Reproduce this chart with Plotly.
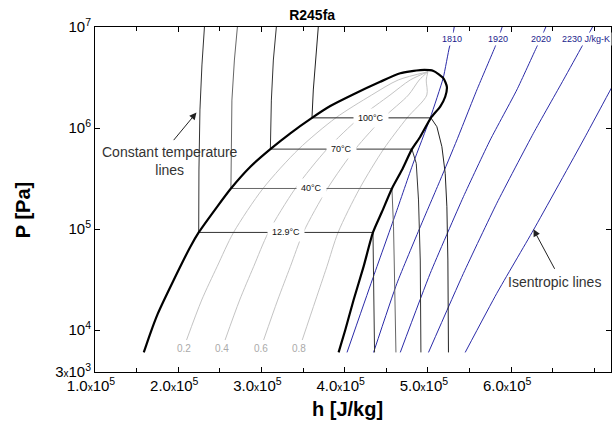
import numpy as np
import plotly.graph_objects as go

# ---------------- data (h in J/kg, P in Pa) ----------------
# saturation dome (liquid side bottom -> critical region -> vapour side bottom)
dome_h = [158.6e3, 166.6e3, 175.6e3, 194.6e3, 214.6e3, 224.6e3, 246.7e3, 263.3e3, 286.7e3, 310.7e3,
          334.7e3, 360.7e3, 382.7e3, 410.7e3, 442.7e3, 466.8e3, 490.8e3, 506.7e3, 518.7e3,
          522.8e3, 520.8e3, 514.8e3, 503.6e3, 490.8e3, 480.8e3, 468.8e3, 456.8e3, 444.8e3,
          434.0e3, 422.7e3, 410.7e3, 400.7e3, 392.7e3]
dome_P = [6.0e3, 9.33e3, 1.46e4, 3.13e4, 6.68e4, 9.25e4, 1.66e5, 2.52e5, 4.14e5, 6.18e5,
          8.86e5, 1.26e6, 1.65e6, 2.16e6, 2.87e6, 3.48e6, 3.75e6, 3.67e6, 3.10e6,
          2.56e6, 2.04e6, 1.63e6, 1.26e6, 8.20e5, 6.18e5, 3.84e5, 2.52e5, 1.48e5,
          9.25e4, 4.24e4, 1.98e4, 1.0e4, 6.0e3]

# constant temperature lines
iso_labels = ["12.9°C", "40°C", "70°C", "100°C"]
iso_colors = ["#333333", "#666666", "#333333", "#222222"]
iso_liq_h = [[231.5e3, 228.5e3, 226.1e3, 224.9e3, 224.6e3],
             [271.1e3, 267.5e3, 264.5e3, 263.6e3, 263.3e3],
             [317.9e3, 314.3e3, 311.9e3, 310.7e3],
             [368.3e3, 364.7e3, 362.3e3, 360.7e3]]
iso_liq_P = [[1.0e7, 4.21e6, 1.51e6, 3.84e5, 9.25e4],
             [1.0e7, 4.71e6, 1.89e6, 6.05e5, 2.52e5],
             [1.0e7, 4.71e6, 1.89e6, 6.18e5],
             [1.0e7, 4.71e6, 2.38e6, 1.26e6]]
iso_vap_h = [[434.0e3, 434.9e3, 435.9e3],
             [456.8e3, 458.7e3, 460.2e3, 461.6e3],
             [480.8e3, 486.0e3, 488.7e3, 490.8e3, 491.6e3],
             [503.6e3, 510.8e3, 516.8e3, 520.8e3, 522.8e3, 524.0e3, 524.7e3]]
iso_vap_P = [[9.25e4, 2.49e4, 6.0e3],
             [2.52e5, 1.05e5, 2.49e4, 6.0e3],
             [6.18e5, 4.47e5, 1.94e5, 4.93e4, 6.0e3],
             [1.26e6, 1.03e6, 6.53e5, 3.56e5, 1.66e5, 4.93e4, 6.0e3]]

# constant quality lines
q_labels = ["0.2", "0.4", "0.6", "0.8"]
q_P = [7.96e3, 1.98e4, 4.24e4, 9.25e4, 2.52e5, 6.18e5, 1.26e6, 2.12e6, 2.99e6, 3.6e6]
q_h = [[210.0e3, 228.2e3, 246.7e3, 266.5e3, 301.9e3, 344.7e3, 389.3e3, 432.4e3, 464.4e3, 500.0e3],
       [256.3e3, 273.8e3, 290.6e3, 308.3e3, 340.7e3, 378.8e3, 417.9e3, 454.5e3, 478.8e3, 500.0e3],
       [302.6e3, 319.5e3, 334.7e3, 350.3e3, 379.4e3, 412.7e3, 446.5e3, 476.6e3, 489.6e3, 500.0e3],
       [349.0e3, 365.1e3, 378.6e3, 392.1e3, 418.0e3, 446.8e3, 475.0e3, 498.7e3, 498.0e3, 500.0e3]]

# isentropic lines
s_labels = ["1810", "1920", "2020", "2230 J/kg-K", ""]
s_h = [[402.8e3, 433.1e3, 460.8e3, 482.4e3, 502.8e3, 518.4e3, 525.9e3, 529.2e3, 531.6e3],
       [434.7e3, 462.8e3, 490.8e3, 514.8e3, 534.8e3, 558.8e3, 580.8e3, 584.4e3, 589.2e3],
       [466.8e3, 502.8e3, 542.7e3, 574.8e3, 606.8e3, 630.9e3, 635.4e3, 641.7e3],
       [500.7e3, 542.7e3, 582.8e3, 626.8e3, 662.8e3, 684.9e3, 689.9e3, 697.8e3],
       [544.8e3, 582.8e3, 626.8e3, 686.8e3, 721.3e3, 754.9e3]]
s_P = [[6.0e3, 3.13e4, 1.38e5, 4.50e5, 1.26e6, 3.13e6, 6.34e6, 7.60e6, 1.0e7],
       [6.0e3, 2.90e4, 1.05e5, 3.05e5, 7.60e5, 2.38e6, 6.38e6, 7.60e6, 1.0e7],
       [6.0e3, 3.64e4, 2.09e5, 7.60e5, 2.38e6, 6.38e6, 7.60e6, 1.0e7],
       [6.0e3, 3.64e4, 1.80e5, 8.87e5, 2.99e6, 6.38e6, 7.60e6, 1.0e7],
       [6.0e3, 2.31e4, 9.77e4, 7.60e5, 2.56e6, 8.34e6]]

# callout texts (label position, arrow tip, arrow tail offset in px)
callout_text = ["Constant temperature<br>lines", "Isentropic lines"]
callout_at = [(190.6e3, 10 ** 5.673), (651.6e3, 10 ** 4.472)]
callout_tip = [(221.9e3, 1.42e6), (626.8e3, 9.93e4)]
callout_tail = [(-24, 29), (22, 41)]

# axes
x_tickvals = [1.0e5, 2.0e5, 3.0e5, 4.0e5, 5.0e5, 6.0e5]
x_tick_mant = ["1.0", "2.0", "3.0", "4.0", "5.0", "6.0"]
x_minor = [1.5e5, 2.5e5, 3.5e5, 4.5e5, 5.5e5, 6.5e5, 7.0e5]
x_range = [1.0e5, 7.2e5]
y_bottom = 3.84e3
y_tickvals = [y_bottom, 1e4, 1e5, 1e6, 1e7]
y_ticktext = ["3<span style='font-size:10px'>x</span>10<sup>3</sup>",
              "10<sup>4</sup>", "10<sup>5</sup>", "10<sup>6</sup>", "10<sup>7</sup>"]

FONT = "Liberation Sans, Arial, sans-serif"
fig = go.Figure()

# quality lines (light grey)
for qh, lab in zip(q_h, q_labels):
    fig.add_trace(go.Scatter(x=qh, y=q_P, mode="lines",
                             line=dict(color="#c4c4c4", width=1, shape="spline", smoothing=0.8),
                             hoverinfo="skip"))
    fig.add_annotation(x=qh[0], y=np.log10(q_P[0]), text=lab, showarrow=False,
                       xanchor="center", yanchor="top", xshift=-3, yshift=-1,
                       font=dict(family=FONT, size=10, color="#aaaaaa"))

# isentropes (blue)
for sh, sp, lab in zip(s_h, s_P, s_labels):
    fig.add_trace(go.Scatter(x=sh, y=sp, mode="lines",
                             line=dict(color="#2a2aa8", width=1, shape="spline", smoothing=0.5),
                             hoverinfo="skip"))
    if lab:
        fig.add_annotation(x=sh[-2], y=np.log10(sp[-2]), text=lab, showarrow=False,
                           xanchor="center", yanchor="middle", bgcolor="white", borderpad=1,
                           font=dict(family=FONT, size=9, color="#1a1a8c"))

# isotherms
for lh, lp, vh, vp, lab, col in zip(iso_liq_h, iso_liq_P, iso_vap_h, iso_vap_P, iso_labels, iso_colors):
    fig.add_trace(go.Scatter(x=lh + vh, y=lp + vp, mode="lines",
                             line=dict(color=col, width=1), hoverinfo="skip"))
    fig.add_annotation(x=(lh[-1] + vh[0]) / 2, y=np.log10(lp[-1]), text=lab, showarrow=False,
                       xanchor="center", yanchor="middle", bgcolor="white", borderpad=4,
                       font=dict(family=FONT, size=9, color="#111111"))

# saturation dome
fig.add_trace(go.Scatter(x=dome_h, y=dome_P, mode="lines",
                         line=dict(color="black", width=2.2, shape="spline", smoothing=0.6),
                         hoverinfo="skip"))

# callouts: text and separate arrow
for txt, at, tip, tail in zip(callout_text, callout_at, callout_tip, callout_tail):
    fig.add_annotation(x=at[0], y=np.log10(at[1]), text=txt, showarrow=False,
                       xanchor="center", yanchor="middle",
                       font=dict(family=FONT, size=14, color="#333333"))
    fig.add_annotation(x=tip[0], y=np.log10(tip[1]), ax=tail[0], ay=tail[1], text="",
                       showarrow=True, arrowhead=2, arrowsize=1.4, arrowwidth=1,
                       arrowcolor="#222222")

# axis titles
fig.add_annotation(xref="paper", yref="paper", x=0.49, y=-0.107, text="<b>h [J/kg]</b>",
                   showarrow=False, xanchor="center", yanchor="middle",
                   font=dict(family=FONT, size=20, color="black"))
fig.add_annotation(xref="paper", yref="paper", x=-0.139, y=0.47, text="<b>P [Pa]</b>",
                   showarrow=False, textangle=-90, xanchor="center", yanchor="middle",
                   font=dict(family=FONT, size=20, color="black"))

x_ticktext = [m + "<span style='font-size:10px'>x</span>10<sup>5</sup>" for m in x_tick_mant]

fig.update_layout(
    width=612, height=425,
    margin=dict(l=95, r=1, t=27, b=53),
    paper_bgcolor="white", plot_bgcolor="white",
    showlegend=False,
    font=dict(family=FONT, color="black"),
    title=dict(text="<b>R245fa</b>", x=0.51, xanchor="center", y=1 - 15 / 425, yanchor="middle",
               font=dict(family=FONT, size=14, color="black")),
    xaxis=dict(range=x_range, tickvals=x_tickvals, ticktext=x_ticktext,
               ticks="inside", ticklen=5, tickcolor="black", showline=True, linecolor="black",
               linewidth=1, mirror="ticks", showgrid=False, zeroline=False, automargin=False,
               ticklabelshift=-4,
               tickfont=dict(family=FONT, size=15, color="black"),
               minor=dict(tickvals=x_minor, ticks="inside", ticklen=4, tickcolor="black", showgrid=False)),
    yaxis=dict(type="log", range=[np.log10(y_bottom), 7], tickvals=y_tickvals, ticktext=y_ticktext,
               ticks="inside", ticklen=5, tickcolor="black", showline=True, linecolor="black",
               linewidth=1, mirror="ticks", showgrid=False, zeroline=False, automargin=False,
               tickfont=dict(family=FONT, size=15, color="black")),
)

fig.write_html("out.html", config={"displayModeBar": False},
               post_script="document.body.style.margin='0px';document.body.style.overflow='hidden';")
